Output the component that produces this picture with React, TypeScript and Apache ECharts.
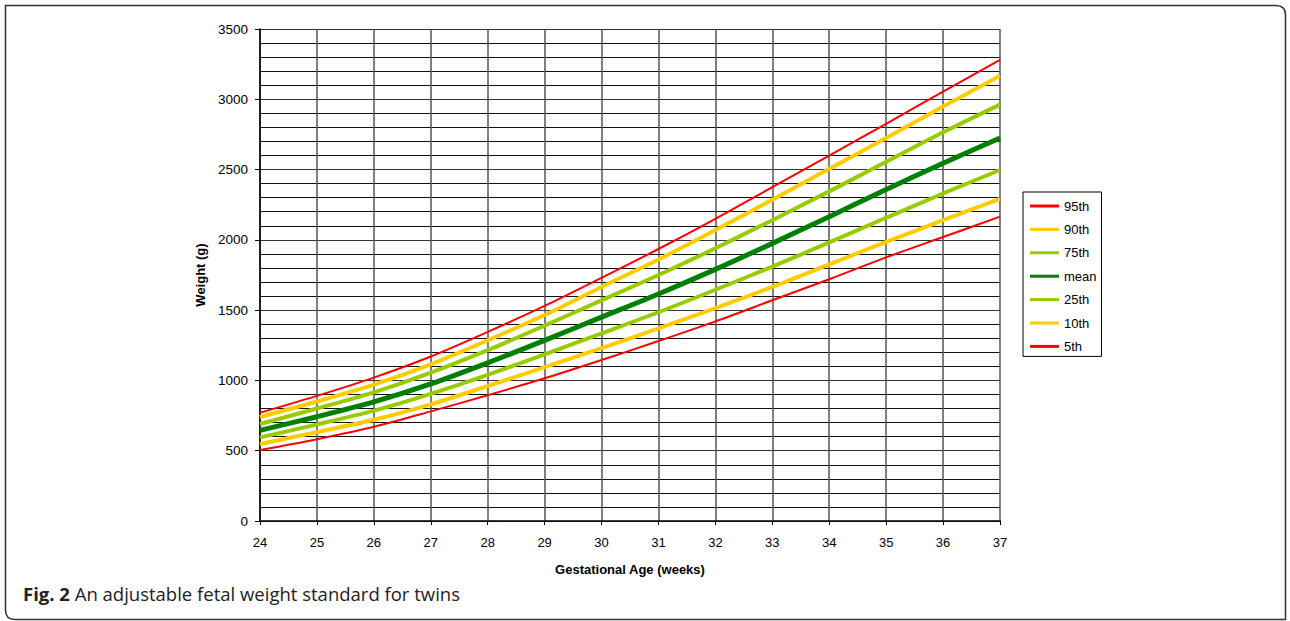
import React, { useEffect, useRef } from "react";
import * as echarts from "echarts";

const weeks = [24, 25, 26, 27, 28, 29, 30, 31, 32, 33, 34, 35, 36, 37];
const p95 = [770, 890, 1020, 1170, 1345, 1530, 1730, 1935, 2150, 2375, 2600, 2825, 3055, 3280];
const p90 = [740, 850, 970, 1115, 1285, 1465, 1665, 1860, 2070, 2285, 2505, 2725, 2948, 3168];
const p75 = [690, 800, 915, 1055, 1215, 1390, 1570, 1750, 1940, 2140, 2345, 2555, 2765, 2962];
const pMean = [645, 742, 847, 975, 1125, 1285, 1450, 1615, 1790, 1975, 2165, 2358, 2545, 2725];
const p25 = [595, 687, 785, 905, 1040, 1185, 1335, 1485, 1645, 1810, 1982, 2157, 2330, 2497];
const p10 = [548, 632, 720, 830, 960, 1095, 1230, 1370, 1515, 1665, 1825, 1985, 2140, 2292];
const p5 = [505, 582, 670, 780, 895, 1015, 1145, 1280, 1420, 1570, 1720, 1875, 2020, 2165];

const seriesNames = ["95th", "90th", "75th", "mean", "25th", "10th", "5th"];
const seriesData = [p95, p90, p75, pMean, p25, p10, p5];
const seriesColors = ["#ff0000", "#ffcc00", "#99cc00", "#008000", "#99cc00", "#ffcc00", "#ff0000"];
const seriesWidths = [2, 4, 4, 5, 4, 4, 2];

const xTitle = "Gestational Age (weeks)";
const yTitle = "Weight (g)";
const captionBold = "Fig. 2";
const captionText = " An adjustable fetal weight standard for twins";

const FONT = "'Liberation Sans', Arial, Helvetica, sans-serif";

export default function App() {
  const ref = useRef<HTMLDivElement>(null);
  useEffect(() => {
    if (!ref.current) return;
    echarts.graphic.registerShape(
      "frame",
      echarts.graphic.extendPath(
        "M5.5,5.5 H1276 Q1285.5,5.5 1285.5,15 V619.5 H15 Q5.5,619.5 5.5,610 Z",
        {}
      )
    );
    const chart = echarts.init(ref.current, undefined, { renderer: "svg" });
    chart.setOption({
      animation: false,
      backgroundColor: "#ffffff",
      textStyle: { fontFamily: FONT },
      grid: { left: 260, top: 29, width: 740, height: 492, containLabel: false },
      legend: {
        orient: "vertical",
        left: 1023,
        top: 192,
        data: seriesNames,
        icon: "rect",
        itemWidth: 29,
        itemHeight: 3,
        itemGap: 7.4,
        padding: [6, 5, 2, 7],
        borderColor: "#000",
        borderWidth: 1,
        textStyle: { fontFamily: FONT, fontSize: 13, color: "#000", lineHeight: 16 },
      },
      xAxis: {
        type: "value",
        min: 24,
        max: 37,
        interval: 1,
        name: xTitle,
        nameLocation: "middle",
        nameGap: 42,
        nameTextStyle: { fontFamily: FONT, fontSize: 13, fontWeight: "bold", color: "#000" },
        axisLine: { show: true, lineStyle: { color: "#000", width: 1.5 } },
        axisTick: { show: true, length: 4, lineStyle: { color: "#000" } },
        axisLabel: { fontFamily: FONT, fontSize: 13, color: "#000", margin: 15, formatter: (v: number) => String(v) },
        splitLine: { show: true, lineStyle: { color: "#555", width: 1.5 } },
      },
      yAxis: {
        type: "value",
        min: 0,
        max: 3500,
        interval: 500,
        name: yTitle,
        nameLocation: "middle",
        nameGap: 47,
        nameTextStyle: { fontFamily: FONT, fontSize: 13, fontWeight: "bold", color: "#000" },
        axisLine: { show: true, lineStyle: { color: "#000", width: 1.5 } },
        axisTick: { show: true, length: 5, lineStyle: { color: "#000" } },
        axisLabel: { fontFamily: FONT, fontSize: 13.5, color: "#000", margin: 12, formatter: (v: number) => String(v) },
        splitLine: { show: true, lineStyle: { color: "#333", width: 1.2 } },
        minorTick: { show: false, splitNumber: 5 },
        minorSplitLine: { show: true, lineStyle: { color: "#111", width: 1 } },
      },
      series: seriesNames.map((name, i) => ({
        name,
        type: "line",
        data: weeks.map((w, j) => [w, seriesData[i][j]]),
        smooth: 0.3,
        showSymbol: false,
        symbol: "none",
        color: seriesColors[i],
        lineStyle: { color: seriesColors[i], width: seriesWidths[i] },
        z: i === 3 ? 4 : 3,
      })),
      graphic: [
        {
          type: "frame",
          x: 0,
          y: 0,
          silent: true,
          style: { fill: "none", stroke: "#333", lineWidth: 1.5 },
        },
        {
          type: "text",
          left: 23,
          top: 584,
          style: {
            text: "{b|" + captionBold + "}{r|" + captionText + "}",
            rich: {
              b: { fontFamily: "'Open Sans', 'Noto Sans', sans-serif", fontSize: 18.5, fontWeight: "bold", fill: "#222" },
              r: { fontFamily: "'Open Sans', 'Noto Sans', sans-serif", fontSize: 18.5, fill: "#222" },
            },
          },
        },
      ],
    });
    return () => chart.dispose();
  }, []);
  return (
    <div
      ref={ref}
      style={{ position: "absolute", left: 0, top: 0, width: 1290, height: 621 }}
    />
  );
}
